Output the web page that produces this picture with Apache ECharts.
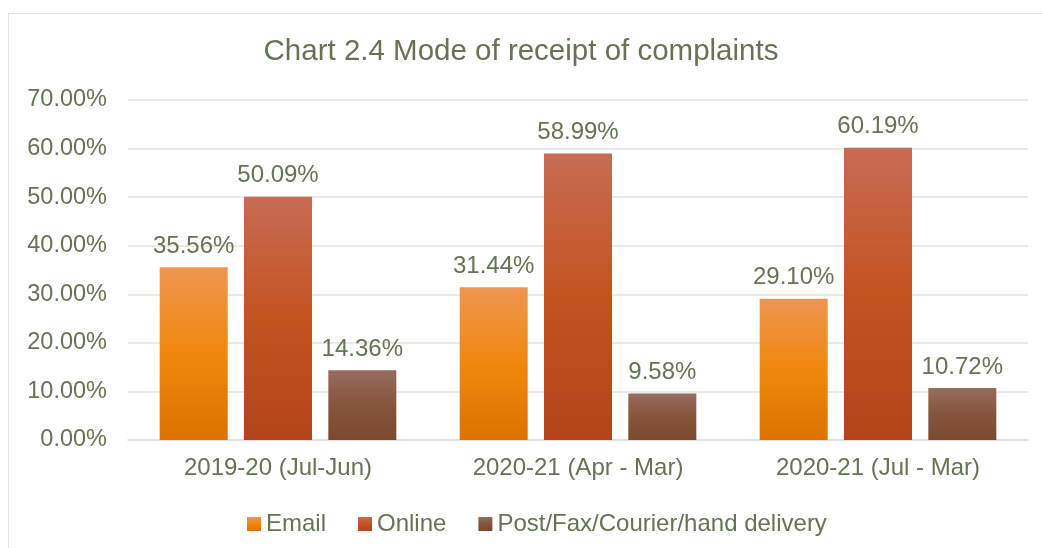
<!DOCTYPE html>
<html><head><meta charset="utf-8">
<script src="https://cdn.jsdelivr.net/npm/echarts@6/dist/echarts.min.js"></script>
<style>
html,body{margin:0;padding:0;background:#fff;}
#frame{position:absolute;left:8px;top:13px;width:1100px;height:600px;border:1px solid #E3E3DC;box-sizing:border-box;}
#chart{position:absolute;left:0;top:0;width:1042px;height:548px;}
</style></head>
<body>
<div id="frame"></div>
<div id="chart"></div>
<script>
const title = 'Chart 2.4 Mode of receipt of complaints';
const categories = ['2019-20 (Jul-Jun)', '2020-21 (Apr - Mar)', '2020-21 (Jul - Mar)'];
const seriesNames = ['Email', 'Online', 'Post/Fax/Courier/hand delivery'];
const emailValues = [35.56, 31.44, 29.10];
const onlineValues = [50.09, 58.99, 60.19];
const postValues = [14.36, 9.58, 10.72];
const yTicks = [0, 10, 20, 30, 40, 50, 60, 70];

const textColor = '#657356';
const font = 'Liberation Sans, Arial, sans-serif';
function grad(a, b, c) {
  return new echarts.graphic.LinearGradient(0, 0, 0, 1, [
    {offset: 0, color: a}, {offset: 0.5, color: b}, {offset: 1, color: c}
  ]);
}
const colors = [
  grad('#EE9651', '#F0870D', '#DC7300'),
  grad('#C76C53', '#C3531F', '#B3441A'),
  grad('#966D5F', '#85553C', '#7A4930')
];
const dataSets = [emailValues, onlineValues, postValues];

const chart = echarts.init(document.getElementById('chart'), null, {renderer: 'canvas'});
chart.setOption({
  animation: false,
  title: {
    text: title, left: 'center', top: 32,
    textStyle: {color: textColor, fontSize: 29.5, fontWeight: 'normal', fontFamily: font}
  },
  legend: {
    data: seriesNames, top: 507, left: 242,
    itemWidth: 14, itemHeight: 14, itemGap: 32,
    icon: 'rect',
    textStyle: {color: textColor, fontSize: 24, fontFamily: font}
  },
  grid: {left: 128, right: 14, top: 100, bottom: 108, containLabel: false},
  xAxis: {
    type: 'category', data: categories,
    axisLine: {lineStyle: {color: '#E4E4DC', width: 2}},
    axisTick: {show: false},
    axisLabel: {color: textColor, fontSize: 24, fontFamily: font, margin: 16}
  },
  yAxis: {
    type: 'value', min: yTicks[0], max: yTicks[yTicks.length - 1], interval: 10,
    axisLine: {show: false}, axisTick: {show: false},
    splitLine: {lineStyle: {color: '#E4E4DC', width: 1.5}},
    axisLabel: {color: textColor, fontSize: 23.5, fontFamily: font, margin: 21,
      formatter: v => v.toFixed(2) + '%'}
  },
  series: seriesNames.map((name, i) => ({
    name, type: 'bar', data: dataSets[i],
    barWidth: 68, barGap: '24%',
    itemStyle: {color: colors[i]},
    label: {show: true, position: 'top', distance: 9, color: textColor, fontSize: 24,
      fontFamily: font, formatter: p => p.value.toFixed(2) + '%'}
  }))
});
</script>
</body></html>
